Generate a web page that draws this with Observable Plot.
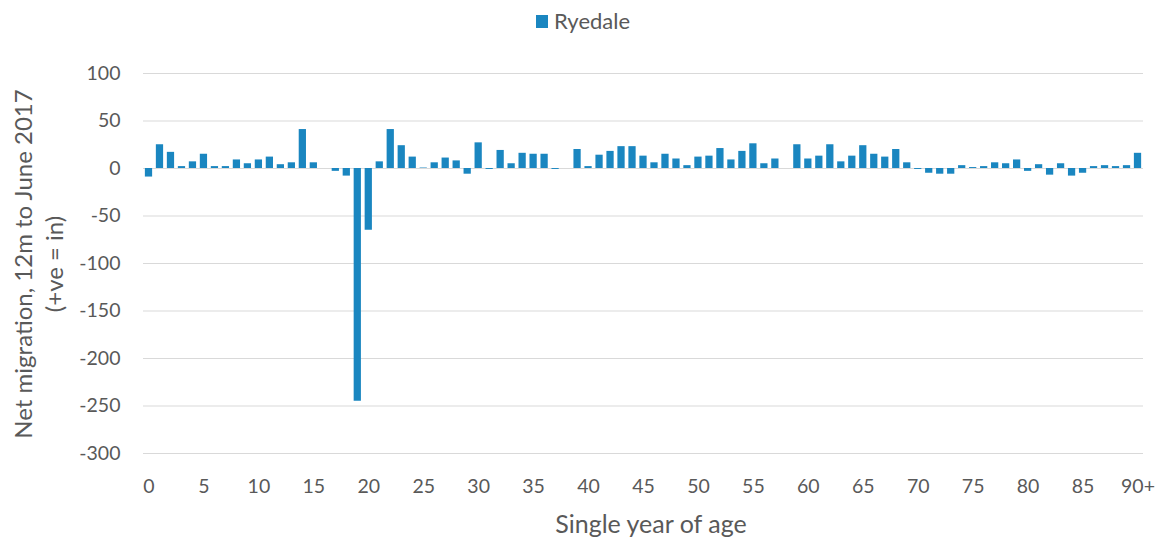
<!DOCTYPE html>
<html>
<head>
<meta charset="utf-8">
<script src="https://cdn.jsdelivr.net/npm/d3@7"></script>
<script src="https://cdn.jsdelivr.net/npm/@observablehq/plot@0.6"></script>
<style>
  html, body { margin: 0; padding: 0; background: #fff; }
  body { width: 1162px; height: 538px; overflow: hidden; font-family: Lato, "Open Sans", sans-serif; }
  #legend { height: 40px; display: flex; align-items: center; justify-content: center; color: #595959; font-size: 22px; box-sizing: border-box; padding-left: 4px; }
  #legend .sw { width: 12px; height: 13px; background: #1a86c0; margin-right: 6px; margin-top: 2px; }
</style>
</head>
<body>
<div id="legend"><span class="sw"></span><span>Ryedale</span></div>
<div id="chart"></div>
<script>
const seriesName = "Ryedale";
const ages = d3.range(0, 91).map(a => a === 90 ? "90+" : String(a));
const values = [
  -9, 25, 17, 2, 7, 15, 2, 2, 9, 5,
  9, 12, 4, 6, 41, 6, 0, -3, -8, -245,
  -65, 7, 41, 24, 12, 0.5, 6, 11, 8, -6,
  27, -1, 19, 5, 16, 15, 15, -1, 0, 20,
  2, 14, 18, 23, 23, 13, 6, 15, 10, 3,
  12, 13, 21, 9, 18, 26, 5, 10, 0, 25,
  10, 13, 25, 7, 13, 24, 15, 12, 20, 6,
  -1, -5, -6, -6, 3, 1, 2, 6, 5, 9,
  -3, 4, -7, 5, -8, -5, 2, 3, 2, 3,
  16
];
const xTickLabels = ["0","5","10","15","20","25","30","35","40","45","50","55","60","65","70","75","80","85","90+"];
const yTicks = [-300, -250, -200, -150, -100, -50, 0, 50, 100];
const yTitle = ["Net migration, 12m to June 2017", "(+ve = in)"];
const xTitle = "Single year of age";

const data = ages.map((a, i) => ({age: a, value: values[i]}));

const W = 1162, H = 498;
const plot = Plot.plot({
  width: W,
  height: H,
  marginLeft: 143,
  marginRight: 19,
  marginTop: 33,
  marginBottom: 85,
  style: {fontFamily: "Lato, 'Open Sans', sans-serif", fontSize: "19.5px", color: "#595959", background: "#fff"},
  x: {type: "band", domain: ages, paddingInner: 0.34, paddingOuter: 0.17, label: null},
  y: {domain: [-300, 100], label: null},
  marks: [
    Plot.ruleY(yTicks, {stroke: "#d9d9d9", strokeWidth: 1}),
    Plot.barY(data, {x: "age", y: "value", fill: "#1a86c0"}),
    Plot.axisY({ticks: yTicks, tickSize: 0, tickPadding: 23, label: null, fill: "#595959", tickFormat: d => String(d)}),
    Plot.axisX({ticks: xTickLabels, tickSize: 0, tickPadding: 26, label: null, fill: "#595959"})
  ]
});

const svg = d3.select(plot);
svg.append("text")
  .attr("x", 651).attr("y", 493)
  .attr("text-anchor", "middle")
  .attr("fill", "#595959")
  .attr("font-size", "25px")
  .text(xTitle);
const yt = svg.append("text")
  .attr("transform", "translate(0,224) rotate(-90)")
  .attr("text-anchor", "middle")
  .attr("fill", "#595959")
  .attr("font-size", "24px");
yt.append("tspan").attr("x", 0).attr("y", 32).text(yTitle[0]);
yt.append("tspan").attr("x", 0).attr("y", 63).text(yTitle[1]);

document.getElementById("chart").appendChild(plot);
</script>
</body>
</html>
